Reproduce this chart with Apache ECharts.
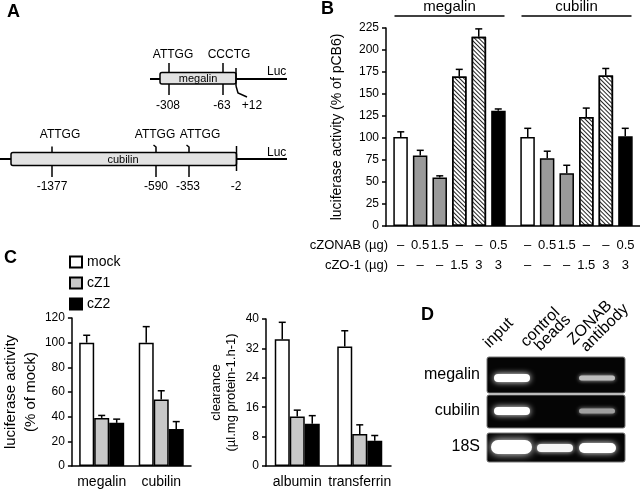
<!DOCTYPE html>
<html><head><meta charset="utf-8">
<script src="https://cdn.jsdelivr.net/npm/echarts@6/dist/echarts.min.js"></script>
<style>html,body{margin:0;padding:0;background:#fff}#c{width:640px;height:489px}</style>
</head><body><div id="c"></div>
<script>
// ---------- Panel B data ----------
const bGenes = ['megalin', 'cubilin'];
const bConditions = ['pCB6', 'cZONAB 0.5', 'cZONAB 1.5', 'cZO-1 1.5', 'cZO-1 3', 'cZO-1 3 + cZONAB 0.5'];
const bZonabLabels = ['–', '0.5', '1.5', '–', '–', '0.5'];
const bZo1Labels = ['–', '–', '–', '1.5', '3', '3'];
const bValues = [[101, 101], [80, 77], [55, 60], [170, 124], [215, 171], [131, 102]];
const bErrors = [[6, 10], [6, 8], [2, 9], [8, 10], [9, 8], [2, 9]];
const bTicks = [0, 25, 50, 75, 100, 125, 150, 175, 200, 225];

// ---------- Panel C data ----------
const cSeriesNames = ['mock', 'cZ1', 'cZ2'];
const cLucGenes = ['megalin', 'cubilin'];
const cLucValues = [[100, 100], [39, 54], [35, 30]];
const cLucErrors = [[6, 13], [2, 7], [3, 6]];
const cLucTicks = [0, 20, 40, 60, 80, 100, 120];
const cClrProteins = ['albumin', 'transferrin'];
const cClrValues = [[34.5, 32.5], [13.5, 8.7], [11.5, 6.9]];
const cClrErrors = [[4.6, 4.3], [1.7, 2.5], [2.2, 1.4]];
const cClrTicks = [0, 8, 16, 24, 32, 40];

const FONT = '"Liberation Sans", Arial, Helvetica, sans-serif';

const hatch = {symbol: 'rect', symbolSize: 1, dashArrayX: [1, 0], dashArrayY: [1, 2], rotation: Math.PI / 4, color: '#222'};
const bStyles = [
  {color: '#fff'}, {color: '#9a9a9a'}, {color: '#9a9a9a'},
  {color: '#fff', decal: hatch}, {color: '#fff', decal: hatch}, {color: '#000'}
];
const cStyles = [{color: '#fff'}, {color: '#c8c8c8'}, {color: '#000'}];

function errRender(offset) {
  return function (params, api) {
    const base = api.coord([api.value(0), api.value(1)]);
    const top = api.coord([api.value(0), api.value(1) + api.value(2)]);
    const cx = base[0] + offset;
    return {type: 'group', children: [
      {type: 'line', shape: {x1: cx, y1: base[1], x2: cx, y2: top[1]}, style: {stroke: '#000', lineWidth: 1.5}},
      {type: 'line', shape: {x1: cx - 3.5, y1: top[1], x2: cx + 3.5, y2: top[1]}, style: {stroke: '#000', lineWidth: 1.5}}
    ]};
  };
}

const yAxisCommon = {
  type: 'value',
  axisLine: {show: true, lineStyle: {color: '#000', width: 1.5}},
  axisTick: {show: true, length: 4, lineStyle: {color: '#000', width: 1.5}},
  splitLine: {show: false},
  axisLabel: {color: '#000', fontFamily: FONT, fontSize: 12, margin: 7},
  nameLocation: 'middle', nameRotate: 90,
  nameTextStyle: {color: '#000', fontFamily: FONT, fontSize: 14}
};
const xAxisCommon = {
  type: 'category',
  axisLine: {show: true, lineStyle: {color: '#000', width: 1.5}},
  axisTick: {show: false},
  axisLabel: {color: '#000', fontFamily: FONT, fontSize: 14, margin: 9, interval: 0}
};

const series = [];
// B bars
const bGap = 19.5;
bConditions.forEach((name, i) => {
  series.push({
    name, type: 'bar', xAxisIndex: 0, yAxisIndex: 0, barWidth: 14.5, barGap: '35%',
    itemStyle: Object.assign({borderColor: '#000', borderWidth: 1.5}, bStyles[i]),
    label: {show: true, position: ['50%', '100%'], offset: [0, 9], align: 'center', verticalAlign: 'top',
      formatter: bZonabLabels[i] + '\n' + bZo1Labels[i], lineHeight: 20, fontSize: 13, fontFamily: FONT, color: '#000'},
    data: bValues[i], z: 2
  });
  series.push({
    type: 'custom', xAxisIndex: 0, yAxisIndex: 0, renderItem: errRender((i - 2.5) * bGap),
    data: bValues[i].map((v, k) => [k, v, bErrors[i][k]]), encode: {x: 0, y: 1}, z: 3, silent: true
  });
});
// B headers
series.push({
  type: 'custom', xAxisIndex: 0, yAxisIndex: 0, silent: true,
  renderItem: function (params, api) {
    const c = api.coord([api.value(0), 0]);
    const top = params.coordSys.y;
    return {type: 'group', children: [
      {type: 'line', shape: {x1: c[0] - 55, y1: top - 12, x2: c[0] + 55, y2: top - 12}, style: {stroke: '#000', lineWidth: 1.5}},
      {type: 'text', x: c[0], y: top - 21, style: {text: bGenes[api.value(0)], font: '15px ' + FONT, fill: '#000', textAlign: 'center', textVerticalAlign: 'middle'}}
    ]};
  },
  data: bGenes.map((g, i) => [i, 0]), encode: {x: 0, y: 1}
});
// C bars
cSeriesNames.forEach((name, i) => {
  [[1, cLucValues, cLucErrors], [2, cClrValues, cClrErrors]].forEach(([ax, vals, errs]) => {
    series.push({
      name, type: 'bar', xAxisIndex: ax, yAxisIndex: ax, barWidth: 15, barGap: '0%',
      itemStyle: Object.assign({borderColor: '#000', borderWidth: 1.5}, cStyles[i]),
      data: vals[i], z: 2
    });
    series.push({
      type: 'custom', xAxisIndex: ax, yAxisIndex: ax, renderItem: errRender((i - 1) * 15), silent: true,
      data: vals[i].map((v, k) => [k, v, errs[i][k]]), encode: {x: 0, y: 1}, z: 3
    });
  });
});

// ---------- graphic (panel A diagrams, panel D gel, labels) ----------
const G = [];
const L = (x1, y1, x2, y2, w) => G.push({type: 'line', shape: {x1, y1, x2, y2}, style: {stroke: '#000', lineWidth: w || 1.5}});
const P = (pts, w) => G.push({type: 'polyline', shape: {points: pts}, style: {stroke: '#000', lineWidth: w || 1.5, fill: null}});
const T = (text, x, y, size, align, extra) => G.push(Object.assign({type: 'text', x, y, style: Object.assign({text, font: size + 'px ' + FONT, fill: '#000', textAlign: align || 'center', textVerticalAlign: 'middle'}, extra || {})}));

// Panel letters
T('A', 7, 12, 18, 'left', {font: 'bold 18px ' + FONT});
T('B', 321, 9, 18, 'left', {font: 'bold 18px ' + FONT});
T('C', 4, 258, 18, 'left', {font: 'bold 18px ' + FONT});
T('D', 421, 315, 18, 'left', {font: 'bold 18px ' + FONT});

// A: megalin promoter
L(150, 79, 160, 79, 2);
G.push({type: 'rect', shape: {x: 160, y: 72.5, width: 76, height: 11.5, r: 2}, style: {fill: '#e2e2e2', stroke: '#000', lineWidth: 1.5}});
L(236, 79, 287, 79, 2);
T('megalin', 198, 79, 11);
L(169, 63, 169, 72.5); L(169, 84, 169, 95);
L(223, 63, 223, 72.5); L(223, 84, 223, 95);
L(236, 68, 236, 86);
P([[236, 86], [238, 93], [247, 97]]);
T('Luc', 267, 72, 12, 'left');
T('ATTGG', 173, 55, 12); T('CCCTG', 229, 55, 12);
T('-308', 168, 106, 12); T('-63', 222, 106, 12); T('+12', 252, 106, 12);

// A: cubilin promoter
L(0, 159, 11, 159, 2);
G.push({type: 'rect', shape: {x: 11, y: 152.5, width: 225.5, height: 13, r: 2}, style: {fill: '#e2e2e2', stroke: '#000', lineWidth: 1.5}});
L(236.5, 159, 287, 159, 2);
T('cubilin', 123, 160, 11);
L(52, 146.5, 52, 152.5); L(52, 166, 52, 177);
P([[153.5, 145], [156, 147], [156, 152.5]]); L(156, 166, 156, 177);
P([[186.5, 145], [189, 147], [189, 152.5]]); L(189, 166, 189, 177);
L(236.5, 146, 236.5, 171);
T('Luc', 267, 153, 12, 'left');
T('ATTGG', 60, 135, 12); T('ATTGG', 155, 135, 12); T('ATTGG', 200, 135, 12);
T('-1377', 52, 187, 12); T('-590', 156, 187, 12); T('-353', 188, 187, 12); T('-2', 236, 187, 12);

// B row captions
T('cZONAB (µg)', 388, 245, 13, 'right');
T('cZO-1 (µg)', 388, 265, 13, 'right');

// D: gel
const rotText = (text, x, y) => G.push({type: 'text', x, y, rotation: Math.PI / 4,
  style: {text, font: '16px ' + FONT, fill: '#000', textAlign: 'left', textVerticalAlign: 'bottom'}});
rotText('input', 492, 351);
rotText('control', 529, 350);
rotText('beads', 543, 354);
rotText('ZONAB', 576, 348);
rotText('antibody', 589, 355);
const gelRows = [[357, 36], [395, 33], [433, 29]];
gelRows.forEach(([y, h]) => G.push({type: 'rect', shape: {x: 487, y, width: 138, height: h, r: 2}, style: {fill: '#050505', stroke: '#777', lineWidth: 1}}));
T('megalin', 480, 375, 16, 'right');
T('cubilin', 480, 411, 16, 'right');
T('18S', 480, 447, 16, 'right');
const band = (x, y, w, h, c, blur) => G.push({type: 'rect', shape: {x, y, width: w, height: h, r: h / 2}, style: {fill: c, shadowBlur: blur, shadowColor: c}});
band(494, 374, 36, 8, '#ffffff', 6);
band(579, 375.5, 36, 5, '#bdbdbd', 4);
band(494, 407, 36, 8, '#ffffff', 6);
band(579, 408.5, 36, 5, '#a0a0a0', 4);
band(491, 440, 41, 14, '#ffffff', 8);
band(537, 444, 36, 8, '#f4f4f4', 5);
band(579, 443, 37, 10, '#ffffff', 6);

const option = {
  animation: false,
  backgroundColor: '#fff',
  textStyle: {fontFamily: FONT},
  legend: {
    data: cSeriesNames, orient: 'vertical', left: 64, top: 250, itemWidth: 12, itemHeight: 11, itemGap: 7,
    icon: 'rect', textStyle: {fontSize: 14, color: '#000', fontFamily: FONT}, selectedMode: false
  },
  grid: [
    {left: 386, width: 257, top: 28, bottom: 263},
    {left: 64, width: 127, top: 318, bottom: 23},
    {left: 266, width: 125, top: 319, bottom: 23}
  ],
  xAxis: [
    Object.assign({}, xAxisCommon, {gridIndex: 0, data: bGenes, axisLabel: {show: false}}),
    Object.assign({}, xAxisCommon, {gridIndex: 1, data: cLucGenes}),
    Object.assign({}, xAxisCommon, {gridIndex: 2, data: cClrProteins})
  ],
  yAxis: [
    Object.assign({}, yAxisCommon, {gridIndex: 0, min: bTicks[0], max: bTicks[bTicks.length - 1], interval: 25,
      name: 'luciferase activity (% of pCB6)', nameGap: 42}),
    Object.assign({}, yAxisCommon, {gridIndex: 1, min: cLucTicks[0], max: cLucTicks[cLucTicks.length - 1], interval: 20,
      name: 'luciferase activity\n(% of mock)', nameGap: 22,
      nameTextStyle: {color: '#000', fontFamily: FONT, fontSize: 15, lineHeight: 20}}),
    Object.assign({}, yAxisCommon, {gridIndex: 2, min: cClrTicks[0], max: cClrTicks[cClrTicks.length - 1], interval: 8,
      name: 'clearance\n(µl.mg protein-1.h-1)', nameGap: 27,
      nameTextStyle: {color: '#000', fontFamily: FONT, fontSize: 13, lineHeight: 15}})
  ],
  series,
  graphic: G
};
const chart = echarts.init(document.getElementById('c'), null, {renderer: 'canvas'});
chart.setOption(option);
</script></body></html>
